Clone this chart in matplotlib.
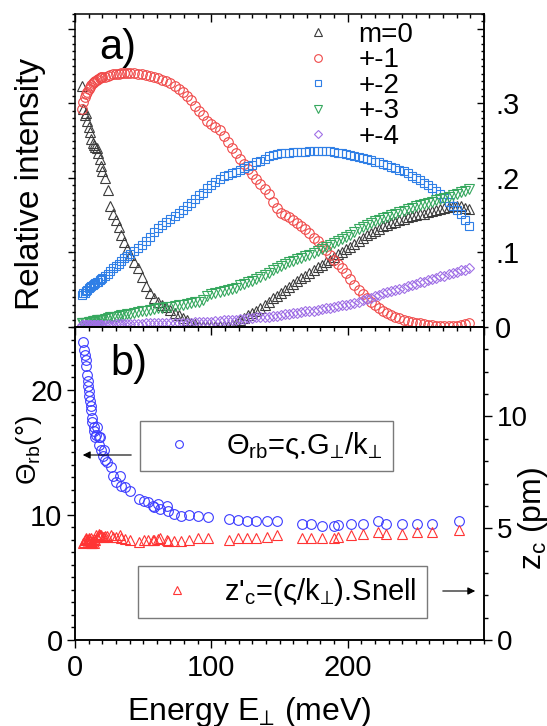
import matplotlib
matplotlib.use('Agg')
import matplotlib.pyplot as plt
from matplotlib.ticker import MultipleLocator, FixedLocator, FixedFormatter, NullFormatter

plt.rcParams['font.family'] = ['Liberation Sans', 'DejaVu Sans']
plt.rcParams['mathtext.fontset'] = 'custom'
plt.rcParams['mathtext.rm'] = 'Liberation Sans'
plt.rcParams['mathtext.it'] = 'Liberation Sans:italic'
plt.rcParams['mathtext.bf'] = 'Liberation Sans:bold'
plt.rcParams['mathtext.fallback'] = 'stixsans'

# ---------------- data: panel a) relative intensities ----------------
energy_a = [5, 6, 7, 8, 9, 10, 11, 12, 13, 14, 15, 16, 17, 18, 19, 20,
            22, 24, 26, 28, 30, 32, 34, 36, 38, 40,
            43, 46, 49, 52, 55, 58, 61, 64, 67, 70,
            73, 76, 79, 82, 85, 88, 91, 94, 97, 100,
            103, 106, 109, 112, 115, 118, 121, 124, 127, 130,
            133, 136, 139, 142, 145, 148, 151, 154, 157, 160,
            163, 166, 169, 172, 175, 178, 181, 184, 187, 190,
            193, 196, 199, 202, 205, 208, 211, 214, 217, 220,
            223, 226, 229, 232, 235, 238, 241, 244, 247, 250,
            253, 256, 259, 262, 265, 268, 271, 274, 277, 280,
            283, 286, 289]

m0 = [.324, .292, .285, .287, .276, .268, .262, .252, .247, .244, .242, .240, .233, .226, .216, .210,
      .200, .184, .162, .152, .143, .134, .124, .114, .104, .096,
      .087, .079, .067, .055, .046, .039, .034, .030, .027, .023,
      .019, .016, .012, .009, .006, .004, .002, .001, .001, .001,
      .001, .001, .001, .002, .003, .006, .009, .012, .016, .019,
      .022, .026, .030, .034, .039, .042, .046, .050, .054, .058,
      .062, .066, .069, .073, .076, .080, .083, .087, .090, .094,
      .098, .101, .104, .108, .112, .116, .120, .123, .126, .129,
      .132, .135, .137, .139, .141, .143, .145, .147, .149, .150,
      .151, .152, .154, .155, .157, .158, .160, .161, .162, .162,
      .162, .160, .158]

m1 = [.292, .302, .308, .312, .316, .319, .322, .325, .327, .329, .330, .331, .333, .334, .335, .335,
      .336, .337, .338, .339, .340, .340, .341, .341, .341, .341,
      .341, .340, .339, .338, .337, .336, .334, .332, .330, .327,
      .323, .319, .315, .310, .304, .297, .290, .284, .277, .272,
      .268, .265, .256, .248, .240, .233, .226, .219, .212, .205,
      .199, .192, .185, .178, .168, .160, .153, .150, .147, .143,
      .140, .136, .131, .126, .120, .115, .109, .103, .096, .090,
      .085, .079, .072, .064, .056, .049, .044, .039, .034, .030,
      .026, .022, .019, .016, .014, .012, .010, .008, .007, .006,
      .005, .004, .003, .003, .002, .002, .002, .002, .002, .002,
      .003, .004, .006]

m2 = [.043, .045, .046, .048, .050, .053, .054, .055, .057, .058, .059, .060, .061, .063, .065, .066,
      .068, .071, .075, .079, .082, .085, .089, .092, .095, .098,
      .102, .106, .110, .115, .121, .127, .133, .137, .141, .145,
      .149, .153, .157, .162, .167, .172, .177, .180, .186, .190,
      .195, .199, .202, .204, .206, .208, .211, .213, .216, .218,
      .221, .223, .226, .229, .231, .232, .233, .234, .234, .235,
      .235, .235, .235, .236, .236, .236, .236, .236, .236, .235,
      .234, .233, .232, .231, .230, .228, .227, .226, .224, .222,
      .221, .219, .217, .215, .213, .211, .209, .206, .203, .200,
      .197, .193, .190, .186, .182, .178, .173, .168, .162, .157,
      .152, .144, .135]

m3 = [.005, .005, .006, .006, .006, .007, .007, .007, .008, .008, .008, .009, .009, .009, .010, .010,
      .011, .012, .013, .013, .014, .015, .016, .016, .017, .018,
      .019, .020, .021, .022, .023, .024, .025, .026, .027, .027,
      .028, .029, .030, .031, .032, .033, .034, .036, .041, .044,
      .045, .047, .048, .050, .051, .053, .056, .058, .060, .062,
      .064, .067, .070, .073, .076, .079, .082, .085, .087, .089,
      .091, .093, .095, .097, .099, .102, .104, .107, .110, .113,
      .115, .118, .121, .124, .127, .131, .134, .137, .140, .142,
      .144, .146, .148, .150, .152, .154, .156, .158, .160, .162,
      .164, .165, .167, .168, .170, .172, .173, .175, .177, .179,
      .181, .183, .185]

m4 = [.003, .003, .003, .003, .003, .003, .003, .003, .003, .003, .003, .003, .003, .003, .003, .003,
      .003, .003, .003, .003, .004, .004, .004, .004, .004, .004,
      .004, .004, .004, .005, .005, .005, .005, .005, .005, .006,
      .006, .006, .006, .006, .006, .007, .007, .007, .007, .007,
      .008, .008, .009, .009, .010, .010, .011, .011, .012, .012,
      .013, .013, .014, .014, .015, .015, .016, .017, .018, .019,
      .019, .020, .021, .021, .022, .023, .024, .025, .026, .027,
      .028, .029, .030, .031, .032, .034, .036, .037, .039, .041,
      .043, .045, .047, .048, .050, .051, .053, .055, .056, .058,
      .060, .061, .063, .064, .066, .068, .069, .071, .072, .074,
      .076, .077, .079]

labels_a = ['m=0', '+-1', '+-2', '+-3', '+-4']

# ---------------- data: panel b) ----------------
energy_b = [5.9, 6.6, 7.2, 7.9, 8.4, 9.0, 9.2, 9.7, 10.2, 10.5,
            11.0, 11.5, 11.8, 12.3, 12.8, 13.6, 14.3, 14.8, 15.6, 16.0,
            17.4, 17.4, 18.7, 19.2, 20.7, 21.2, 22.0, 23.8, 26.3, 27.6,
            30.0, 32.7, 34.0, 37.0, 40.4, 46.8, 50.6, 53.2, 57.0, 58.3,
            60.9, 62.1, 67.3, 68.5, 72.4, 77.5, 83.9, 90.3, 97.2, 113.3,
            119.7, 126.0, 132.5, 141.0, 147.8, 166.5, 173.4, 181.0, 190.0, 192.6,
            202.8, 211.3, 222.0, 228.4, 240.0, 250.6, 262.0, 282.0]

theta_rb = [23.8, 23.2, 22.8, 22.4, 21.9, 21.2, 20.7, 20.3, 19.9, 19.5,
            19.1, 18.7, 18.4, 17.7, 17.4, 17.0, 16.7, 16.2, 16.4, 17.0,
            16.2, 15.6, 16.2, 15.2, 14.7, 15.2, 14.4, 14.2, 13.8, 13.1,
            12.6, 13.1, 12.3, 12.2, 11.9, 11.3, 11.1, 11.0, 10.7, 10.6,
            10.9, 10.5, 10.7, 10.3, 10.1, 9.9, 10.0, 9.9, 9.85, 9.7,
            9.6, 9.5, 9.5, 9.5, 9.5, 9.3, 9.3, 9.1, 9.1, 9.2,
            9.3, 9.3, 9.5, 9.3, 9.3, 9.3, 9.3, 9.5]

zc_pm = [4.35, 4.39, 4.46, 4.50, 4.54, 4.46, 4.40, 4.46, 4.50, 4.54,
         4.42, 4.54, 4.36, 4.32, 4.40, 4.32, 4.50, 4.46, 4.69, 4.60,
         4.76, 4.65, 4.70, 4.69, 4.60, 4.62, 4.64, 4.64, 4.69, 4.60,
         4.62, 4.69, 4.54, 4.50, 4.49, 4.39, 4.46, 4.46, 4.46, 4.49,
         4.52, 4.54, 4.46, 4.44, 4.43, 4.43, 4.49, 4.54, 4.54, 4.49,
         4.54, 4.54, 4.54, 4.61, 4.69, 4.54, 4.58, 4.54, 4.58, 4.61,
         4.69, 4.73, 4.84, 4.73, 4.76, 4.81, 4.81, 4.94]

label_theta = r'$\Theta_{\rm rb}$=ς.G$_{⊥}$/k$_{⊥}$'
label_zc = r"z'$_{\rm c}$=(ς/k$_{⊥}$).Snell"

# ---------------- figure ----------------
W, H = 547, 726
fig = plt.figure(figsize=(W / 100, H / 100), dpi=100)

L, R = 75, 484
ax1 = fig.add_axes([L / W, (H - 327) / H, (R - L) / W, 313 / H])
ax2 = fig.add_axes([L / W, (H - 640) / H, (R - L) / W, 313 / H])
ax2r = ax2.twinx()

mew = 0.8
styles = [
    dict(marker='^', color='#3c3c3c', ms=7.0),
    dict(marker='o', color='#f04848', ms=6.9),
    dict(marker='s', color='#2f7fe6', ms=6.0),
    dict(marker='v', color='#36a85e', ms=6.8),
    dict(marker='D', color='#a070e6', ms=5.0),
]
series = [m0, m1, m2, m3, m4]
handles = []
for vals, st, lab in zip(series, styles, labels_a):
    h, = ax1.plot(energy_a, vals, linestyle='none', marker=st['marker'],
                  markersize=st['ms'], markerfacecolor='none',
                  markeredgecolor=st['color'], markeredgewidth=mew, label=lab)
    handles.append(h)

ax1.set_xlim(0, 300)
ax1.set_ylim(0, 0.42)

# bottom panel
hc, = ax2.plot(energy_b, theta_rb, linestyle='none', marker='o', markersize=7.0,
               markerfacecolor='none', markeredgecolor='#3c3cff', markeredgewidth=mew)
ht, = ax2r.plot(energy_b, zc_pm, linestyle='none', marker='^', markersize=7.2,
                markerfacecolor='none', markeredgecolor='#ff3434', markeredgewidth=mew)
ax2.set_xlim(0, 300)
ax2.set_ylim(0, 25)
ax2r.set_ylim(0, 14)

# ---------------- ticks & spines ----------------
tick_fs = 21
for a in (ax1, ax2, ax2r):
    for s in a.spines.values():
        s.set_linewidth(1.1)

# top panel
ax1.xaxis.set_major_locator(MultipleLocator(100))
ax1.xaxis.set_minor_locator(MultipleLocator(10))
ax1.tick_params(axis='x', which='both', direction='in', top=True, bottom=False,
                labelbottom=False, labeltop=False)
ax1.tick_params(axis='x', which='major', length=5.5, width=1)
ax1.tick_params(axis='x', which='minor', length=3, width=1)
ax1.yaxis.set_major_locator(MultipleLocator(0.1))
ax1.yaxis.set_minor_locator(MultipleLocator(0.01))
ax1.tick_params(axis='y', which='both', direction='out', left=True, right=False,
                labelleft=False)
ax1.tick_params(axis='y', which='major', length=5, width=1)
ax1.tick_params(axis='y', which='minor', length=2.5, width=1)

sec_r = ax1.secondary_yaxis('right')
sec_r.yaxis.set_major_locator(FixedLocator([0, 0.1, 0.2, 0.3, 0.4]))
sec_r.yaxis.set_major_formatter(FixedFormatter(['0', '.1', '.2', '.3', '']))
sec_r.yaxis.set_minor_locator(MultipleLocator(0.01))
sec_r.tick_params(axis='y', which='both', direction='in', labelsize=tick_fs, pad=8)
sec_r.tick_params(axis='y', which='major', length=5, width=1)
sec_r.tick_params(axis='y', which='minor', length=2.5, width=1)
sec_r.spines['right'].set_linewidth(1.1)

# bottom panel
ax2.xaxis.set_major_locator(FixedLocator([0, 100, 200]))
ax2.xaxis.set_minor_locator(MultipleLocator(10))
ax2.tick_params(axis='x', which='both', direction='out', top=False, labelsize=tick_fs, pad=4)
ax2.tick_params(axis='x', which='major', length=6, width=1)
ax2.tick_params(axis='x', which='minor', length=3, width=1)
sec_t = ax2.secondary_xaxis('top')
sec_t.xaxis.set_major_locator(MultipleLocator(100))
sec_t.xaxis.set_minor_locator(MultipleLocator(10))
sec_t.xaxis.set_major_formatter(NullFormatter())
sec_t.tick_params(axis='x', which='both', direction='in')
sec_t.tick_params(axis='x', which='major', length=6, width=1)
sec_t.tick_params(axis='x', which='minor', length=3, width=1)
sec_t.spines['top'].set_linewidth(1.1)

ax2.yaxis.set_major_locator(FixedLocator([0, 10, 20]))
ax2.yaxis.set_minor_locator(MultipleLocator(1))
ax2.tick_params(axis='y', which='both', direction='out', labelsize=tick_fs, pad=3)
ax2.tick_params(axis='y', which='major', length=6, width=1)
ax2.tick_params(axis='y', which='minor', length=3, width=1)

ax2r.yaxis.set_major_locator(FixedLocator([0, 5, 10]))
ax2r.yaxis.set_minor_locator(MultipleLocator(1))
ax2r.tick_params(axis='y', which='both', direction='out', labelsize=tick_fs - 1, pad=3)
ax2r.tick_params(axis='y', which='major', length=6, width=1)
ax2r.tick_params(axis='y', which='minor', length=3, width=1)

# ---------------- legends ----------------
ax1.legend(handles=handles, labels=labels_a, loc='upper left',
           bbox_to_anchor=((307 - L) / (R - L), (327 - 22) / 313),
           frameon=False, fontsize=20, handlelength=0.8, handletextpad=1.05,
           labelspacing=-0.02, borderpad=0, borderaxespad=0, markerscale=0.8)

leg1 = ax2r.legend(handles=[hc], labels=[label_theta], loc='upper left',
                   bbox_to_anchor=((140 - L) / (R - L), (640 - 421) / 313),
                   fontsize=21, frameon=True, fancybox=False, edgecolor='#7a7a7a',
                   framealpha=1, borderpad=0.35, handlelength=2.0, handletextpad=0.6,
                   borderaxespad=0, markerscale=0.8)
leg1.get_frame().set_linewidth(1.0)
ax2r.add_artist(leg1)
leg2 = ax2r.legend(handles=[ht], labels=[label_zc], loc='upper left',
                   bbox_to_anchor=((138 - L) / (R - L), (640 - 566) / 313),
                   fontsize=21, frameon=True, fancybox=False, edgecolor='#7a7a7a',
                   framealpha=1, borderpad=0.35, handlelength=2.0, handletextpad=0.6,
                   borderaxespad=0, markerscale=0.8)
leg2.get_frame().set_linewidth(1.0)

# arrows pointing to the relevant axes
ax2.annotate('', xy=((80 - L) / (R - L), (640 - 455) / 313),
             xytext=((134 - L) / (R - L), (640 - 455) / 313), xycoords='axes fraction',
             arrowprops=dict(arrowstyle='-|>', color='black', lw=0.8, mutation_scale=11))
ax2.annotate('', xy=((478 - L) / (R - L), (640 - 591) / 313),
             xytext=((440 - L) / (R - L), (640 - 591) / 313), xycoords='axes fraction',
             arrowprops=dict(arrowstyle='-|>', color='black', lw=0.8, mutation_scale=11))

# ---------------- panel letters & labels ----------------
ax1.text((99 - L) / (R - L), (327 - 59) / 313, 'a)', transform=ax1.transAxes,
         fontsize=30, ha='left', va='baseline')
ax2.text((110 - L) / (R - L), (640 - 375) / 313, 'b)', transform=ax2.transAxes,
         fontsize=30, ha='left', va='baseline')

fig.text(15 / W, (H - 184) / H, 'Relative intensity', rotation=90, fontsize=24,
         ha='left', va='center')
fig.text(14 / W, (H - 450) / H, r'$\Theta_{\rm rb}$(°)', rotation=90, fontsize=20,
         ha='left', va='center')
fig.text(516 / W, (H - 518) / H, r'z$_{\rm c}$ (pm)', rotation=90, fontsize=23,
         ha='left', va='center')
fig.text(127 / W, (H - 720) / H, r'Energy E$_{⊥}$ (meV)', fontsize=23,
         ha='left', va='baseline')

fig.savefig('out.png', dpi=100)
